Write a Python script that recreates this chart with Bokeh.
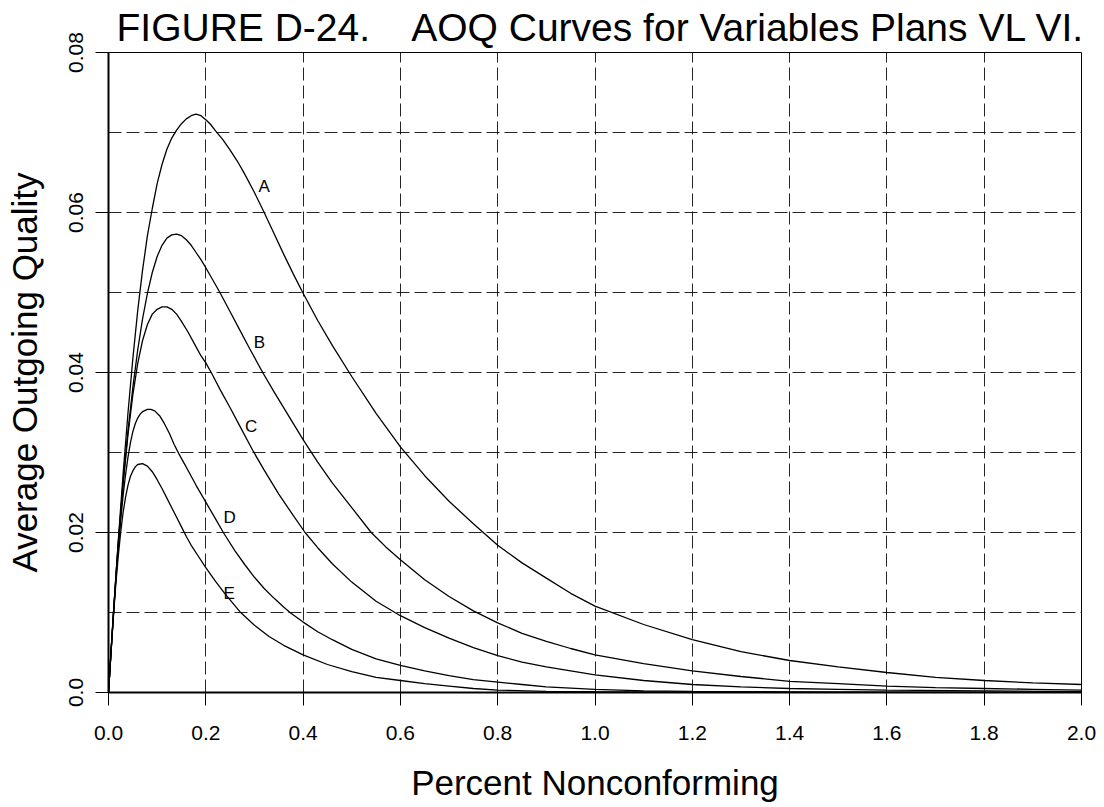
from bokeh.plotting import figure
from bokeh.models import Range1d, FixedTicker
from bokeh.core.properties import value
from bokeh.embed import file_html
from bokeh.resources import INLINE

# ---------------- data ----------------
title_text = "FIGURE D-24.\u00a0\u00a0\u00a0 AOQ Curves for Variables Plans VL VI."
x_label = "Percent Nonconforming"
y_label = "Average Outgoing Quality"

x_ticks = [0.0, 0.2, 0.4, 0.6, 0.8, 1.0, 1.2, 1.4, 1.6, 1.8, 2.0]
x_tick_labels = ["0.0", "0.2", "0.4", "0.6", "0.8", "1.0", "1.2", "1.4", "1.6", "1.8", "2.0"]
y_ticks = [0.0, 0.02, 0.04, 0.06, 0.08]
y_tick_labels = ["0.0", "0.02", "0.04", "0.06", "0.08"]
y_grid = [0.01, 0.02, 0.03, 0.04, 0.05, 0.06, 0.07]

A_x = [0, 0.005, 0.01, 0.015, 0.02, 0.03, 0.04, 0.05, 0.06, 0.07, 0.08, 0.09, 0.10, 0.11, 0.12,
       0.13, 0.14, 0.15, 0.16, 0.17, 0.18, 0.19, 0.20, 0.21, 0.22, 0.235, 0.25, 0.265, 0.28, 0.30,
       0.32, 0.34, 0.36, 0.38, 0.40, 0.43, 0.46, 0.50, 0.55, 0.60, 0.65, 0.70, 0.75, 0.80, 0.85,
       0.90, 0.95, 1.00, 1.10, 1.20, 1.30, 1.40, 1.50, 1.60, 1.70, 1.80, 1.90, 2.00]
A_y = [0, 0.0050, 0.0098, 0.0143, 0.0189, 0.0273, 0.0349, 0.0417, 0.0477, 0.0528, 0.0571, 0.0605, 0.0636, 0.0660, 0.0679,
       0.0693, 0.0703, 0.0711, 0.0717, 0.0721, 0.0723, 0.0721, 0.0716, 0.0710, 0.0702, 0.0691, 0.0678, 0.0664, 0.0648, 0.0625,
       0.0600, 0.0574, 0.0548, 0.0523, 0.0499, 0.0465, 0.0434, 0.0395, 0.0349, 0.0307, 0.0271, 0.0239, 0.0211, 0.0184, 0.0162,
       0.0143, 0.0124, 0.0108, 0.0085, 0.0066, 0.0051, 0.0040, 0.0032, 0.0025, 0.0019, 0.0015, 0.0012, 0.0010]

B_x = [0, 0.005, 0.01, 0.015, 0.02, 0.03, 0.04, 0.05, 0.06, 0.07, 0.08, 0.09, 0.10, 0.11, 0.12,
       0.13, 0.14, 0.15, 0.16, 0.17, 0.18, 0.19, 0.20, 0.215, 0.229, 0.25, 0.27, 0.29, 0.317, 0.34,
       0.36, 0.38, 0.40, 0.43, 0.46, 0.50, 0.54, 0.57, 0.60, 0.65, 0.70, 0.75, 0.80, 0.85, 0.90,
       0.95, 1.00, 1.10, 1.20, 1.30, 1.40, 1.50, 1.60, 1.70, 1.80, 1.90, 2.00]
B_y = [0, 0.0049, 0.0097, 0.0143, 0.0186, 0.0263, 0.0327, 0.0381, 0.0428, 0.0467, 0.0499, 0.0525, 0.0545, 0.0559, 0.0568,
       0.0572, 0.0573, 0.0571, 0.0566, 0.0559, 0.0550, 0.0541, 0.0531, 0.0515, 0.0500, 0.0476, 0.0453, 0.0430, 0.0400, 0.0376,
       0.0356, 0.0336, 0.0316, 0.0288, 0.0262, 0.0231, 0.0200, 0.0182, 0.0166, 0.0141, 0.0120, 0.0102, 0.0087, 0.0074, 0.0064,
       0.0055, 0.0047, 0.0036, 0.0027, 0.0020, 0.0014, 0.0011, 0.0008, 0.0006, 0.0005, 0.0004, 0.0003]

C_x = [0, 0.005, 0.01, 0.015, 0.02, 0.03, 0.04, 0.05, 0.06, 0.07, 0.08, 0.09, 0.10, 0.11, 0.12,
       0.13, 0.14, 0.15, 0.164, 0.18, 0.19, 0.20, 0.212, 0.23, 0.25, 0.27, 0.298, 0.32, 0.35, 0.38,
       0.404, 0.43, 0.46, 0.50, 0.55, 0.60, 0.65, 0.70, 0.75, 0.80, 0.85, 0.90, 0.95, 1.00, 1.10,
       1.20, 1.30, 1.40, 1.50, 1.60, 1.80, 2.00]
C_y = [0, 0.0049, 0.0097, 0.0142, 0.0185, 0.0260, 0.0322, 0.0372, 0.0411, 0.0440, 0.0460, 0.0473, 0.0479, 0.0482, 0.0482,
       0.0479, 0.0473, 0.0464, 0.0450, 0.0432, 0.0421, 0.0412, 0.0399, 0.0378, 0.0356, 0.0333, 0.0301, 0.0278, 0.0248, 0.0221,
       0.0200, 0.0181, 0.0161, 0.0138, 0.0114, 0.0096, 0.0081, 0.0068, 0.0056, 0.0046, 0.0038, 0.0032, 0.0027, 0.0022, 0.0015,
       0.0010, 0.0007, 0.0005, 0.0004, 0.0003, 0.0002, 0.0001]

D_x = [0, 0.005, 0.01, 0.015, 0.02, 0.025, 0.03, 0.035, 0.04, 0.045, 0.05, 0.055, 0.06, 0.065, 0.07,
       0.08, 0.087, 0.095, 0.105, 0.115, 0.125, 0.135, 0.145, 0.155, 0.165, 0.18, 0.20, 0.22, 0.236, 0.26,
       0.28, 0.30, 0.32, 0.34, 0.36, 0.373, 0.40, 0.43, 0.46, 0.50, 0.55, 0.60, 0.65, 0.70, 0.75,
       0.80, 0.85, 0.90, 1.00, 1.10, 1.20, 1.40, 1.60, 2.00]
D_y = [0, 0.0049, 0.0096, 0.0140, 0.0180, 0.0215, 0.0246, 0.0272, 0.0294, 0.0312, 0.0326, 0.0336, 0.0343, 0.0348, 0.0351,
       0.0354, 0.0354, 0.0352, 0.0346, 0.0336, 0.0324, 0.0310, 0.0298, 0.0287, 0.0276, 0.0259, 0.0238, 0.0217, 0.0200, 0.0177,
       0.0160, 0.0144, 0.0130, 0.0118, 0.0107, 0.0100, 0.0088, 0.0076, 0.0066, 0.0054, 0.0042, 0.0034, 0.0027, 0.0021, 0.0016,
       0.0013, 0.0010, 0.0007, 0.0004, 0.0002, 0.00015, 0.00007, 0.00003, 0.0]

E_x = [0, 0.005, 0.01, 0.015, 0.02, 0.025, 0.03, 0.035, 0.04, 0.045, 0.05, 0.055, 0.06, 0.07, 0.08,
       0.09, 0.10, 0.11, 0.12, 0.13, 0.14, 0.15, 0.16, 0.17, 0.185, 0.20, 0.22, 0.24, 0.27, 0.30,
       0.33, 0.36, 0.40, 0.45, 0.50, 0.55, 0.60, 0.65, 0.70, 0.75, 0.80, 0.90, 1.00, 1.20, 1.50, 2.00]
E_y = [0, 0.0048, 0.0094, 0.0135, 0.0170, 0.0200, 0.0225, 0.0244, 0.0259, 0.0270, 0.0277, 0.0282, 0.0285, 0.0286, 0.0283,
       0.0276, 0.0266, 0.0255, 0.0243, 0.0231, 0.0219, 0.0207, 0.0195, 0.0184, 0.0170, 0.0156, 0.0139, 0.0123, 0.0101, 0.0084,
       0.0070, 0.0059, 0.0047, 0.0035, 0.0026, 0.0019, 0.0015, 0.0011, 0.0008, 0.0005, 0.0003, 0.00015, 0.0001, 0.00003, 0.0, 0.0]

curve_names = ["A", "B", "C", "D", "E"]
label_x = [0.320, 0.310, 0.293, 0.249, 0.248]
label_y = [0.0632, 0.0437, 0.0333, 0.0219, 0.0124]

# ---------------- figure ----------------
FONT = "Liberation Sans"

p = figure(width=1104, height=807, output_backend="svg", toolbar_location=None,
           x_range=Range1d(0, 2.0), y_range=Range1d(0, 0.08),
           min_border_left=108, min_border_right=23, min_border_top=52, min_border_bottom=115)

p.title.text = title_text
p.title.text_font = FONT
p.title.text_font_size = "39px"
p.title.text_font_style = "normal"
p.title.text_color = "black"
p.title.align = "left"
p.title.offset = 8
p.title.standoff = 7

p.background_fill_color = "white"
p.border_fill_color = "white"
p.outline_line_color = "black"
p.outline_line_width = 1

for ax in (p.xaxis, p.yaxis):
    ax.axis_line_width = 2
    ax.axis_line_color = "black"
    ax.major_tick_out = 13
    ax.major_tick_in = 0
    ax.minor_tick_out = 0
    ax.minor_tick_in = 0
    ax.major_tick_line_color = "black"
    ax.major_tick_line_width = 1
    ax.major_label_text_font = FONT
    ax.major_label_text_font_size = "21px"
    ax.major_label_text_color = "black"
    ax.axis_label_text_font = FONT
    ax.axis_label_text_font_size = "35px"
    ax.axis_label_text_font_style = "normal"
    ax.axis_label_text_color = "black"

p.xaxis.ticker = FixedTicker(ticks=x_ticks)
p.xaxis.major_label_overrides = dict(zip(x_ticks, x_tick_labels))
p.xaxis.axis_label = x_label
p.xaxis.major_label_standoff = 20
p.xaxis.axis_label_standoff = 20

p.yaxis.ticker = FixedTicker(ticks=y_ticks)
p.yaxis.major_label_overrides = dict(zip(y_ticks, y_tick_labels))
p.yaxis.axis_label = y_label
p.yaxis.major_label_orientation = "vertical"
p.yaxis.major_label_standoff = 13
p.yaxis.axis_label_standoff = 22

p.xgrid.ticker = FixedTicker(ticks=x_ticks)
p.ygrid.ticker = FixedTicker(ticks=y_grid)
for g in (p.xgrid, p.ygrid):
    g.grid_line_color = "black"
    g.grid_line_width = 1
    g.grid_line_dash = "13 5"
    g.grid_line_alpha = 0.85

for xs, ys in ((A_x, A_y), (B_x, B_y), (C_x, C_y), (D_x, D_y), (E_x, E_y)):
    p.line(xs, ys, line_color="black", line_width=1.3)

p.text(x=label_x, y=label_y, text=curve_names, text_font=value(FONT),
       text_font_size="17px", text_color="black", text_align="center",
       text_baseline="middle")

open("out.html", "w").write(file_html(p, INLINE))
